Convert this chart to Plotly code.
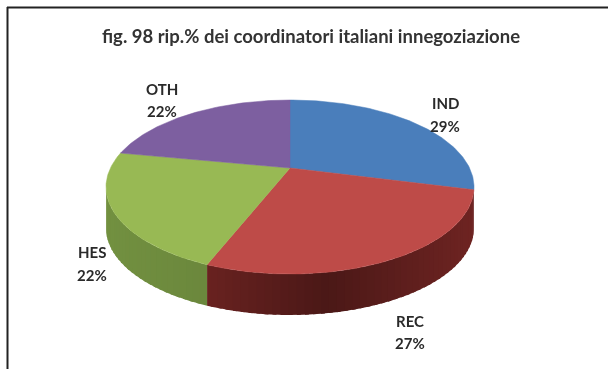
import math
import plotly.graph_objects as go

categories = ["IND", "REC", "HES", "OTH"]
shares = [29, 27, 22, 22]
top_colors = ["#4A7EBB", "#BE4B48", "#98B954", "#7D5FA0"]
side_colors = ["#2F5075", "#6E2422", "#7A9A45", "#4F3B66"]
title_text = "fig. 98 rip.% dei coordinatori italiani innegoziazione"

W, H = 608, 369
CX, CY = 290.0, 187.0   # centre of the outline of the top face
RX, RY = 184.0, 87.0
APEX = 19.0             # how far the slice apex sits above the outline centre
DEPTH = 41.0
K = 2 * APEX / (2 * RY)
C = RX * math.sqrt(1 - K * K)


def project(deg):
    t = math.radians(deg)
    u, v = math.sin(t), math.cos(t)
    w = 1 + K * v
    return CX + C * u / w, CY - (RY * v + APEX) / w


def shade(hex_color, f):
    r, g, b = (int(hex_color[i:i + 2], 16) for i in (1, 3, 5))
    return f"rgb({min(255, int(r * f))},{min(255, int(g * f))},{min(255, int(b * f))})"


fig = go.Figure()
total = sum(shares)
start = 0.0
right_extreme = math.degrees(math.acos(-K))
left_extreme = 360 - right_extreme
for cat, val, top, side in zip(categories, shares, top_colors, side_colors):
    end = start + 360 * val / total
    # outer wall, split into narrow strips so the shading can vary
    a0, a1 = max(start, right_extreme), min(end, left_extreme)
    if a1 > a0:
        n = max(2, int((a1 - a0) / 2))
        for i in range(n):
            # painted from the far end back, each strip overlapping the next
            j = n - 1 - i if cat == "REC" else i
            s0 = a0 + (a1 - a0) * j / n
            s1 = min(a1, a0 + (a1 - a0) * (j + 1) / n + 1.0)
            p0, p1 = project(s0), project(s1)
            pos = (p0[0] - (CX - RX)) / (2 * RX)
            f = 0.68 + 0.85 * abs(pos - 0.62) if cat == "REC" else 0.92 + 0.2 * (0.1 - pos)
            fig.add_trace(go.Scatter(
                x=[p0[0], p1[0], p1[0], p0[0], p0[0]],
                y=[p0[1], p1[1], p1[1] + DEPTH, p0[1] + DEPTH, p0[1]],
                mode="none", fill="toself", fillcolor=shade(side, f),
                hoverinfo="skip", showlegend=False))
    start = end

start = 0.0
for cat, val, top in zip(categories, shares, top_colors):
    end = start + 360 * val / total
    n = max(2, int(end - start))
    pts = [project(start + (end - start) * i / n) for i in range(n + 1)]
    xs = [CX] + [p[0] for p in pts] + [CX]
    ys = [CY - APEX] + [p[1] for p in pts] + [CY - APEX]
    fig.add_trace(go.Scatter(x=xs, y=ys, mode="lines", fill="toself", fillcolor=top,
                             line=dict(width=0.5, color=top), name=cat, showlegend=False,
                             hovertemplate=f"{cat}: {val}%<extra></extra>"))
    start = end

label_pos = {"IND": (445, 103, 126), "REC": (410, 321, 343), "HES": (92, 252, 275), "OTH": (162, 89, 111)}
annotations = []
for cat, val in zip(categories, shares):
    x, y1, y2 = label_pos[cat]
    for y, txt in ((y1, cat), (y2, f"{val}%")):
        annotations.append(dict(x=x, y=y, xref="x", yref="y", text=txt, showarrow=False,
                                font=dict(family="Lato", size=15, color="#2a2a2a", weight="bold")))
annotations.append(dict(x=311, y=36, xref="x", yref="y", text=title_text, showarrow=False,
                        font=dict(family="Lato", size=18.5, color="#333333", weight="bold")))

shapes = [
    dict(type="line", x0=7, x1=608, y0=7.5, y1=7.5, xref="x", yref="y", line=dict(color="#222222", width=2)),
    dict(type="line", x0=7.5, x1=7.5, y0=7, y1=369, xref="x", yref="y", line=dict(color="#222222", width=2)),
]

fig.update_layout(
    width=W, height=H, margin=dict(l=0, r=0, t=0, b=0),
    paper_bgcolor="white", plot_bgcolor="white", showlegend=False,
    xaxis=dict(range=[0, W], visible=False, fixedrange=True),
    yaxis=dict(range=[H, 0], visible=False, fixedrange=True),
    annotations=annotations, shapes=shapes,
)
fig.write_html(
    "out.html", config={"displayModeBar": False},
    post_script="document.body.style.margin='0';document.body.style.overflow='hidden';"
                "document.querySelector('.plotly-graph-div').style.filter='blur(0.7px)';",
)
